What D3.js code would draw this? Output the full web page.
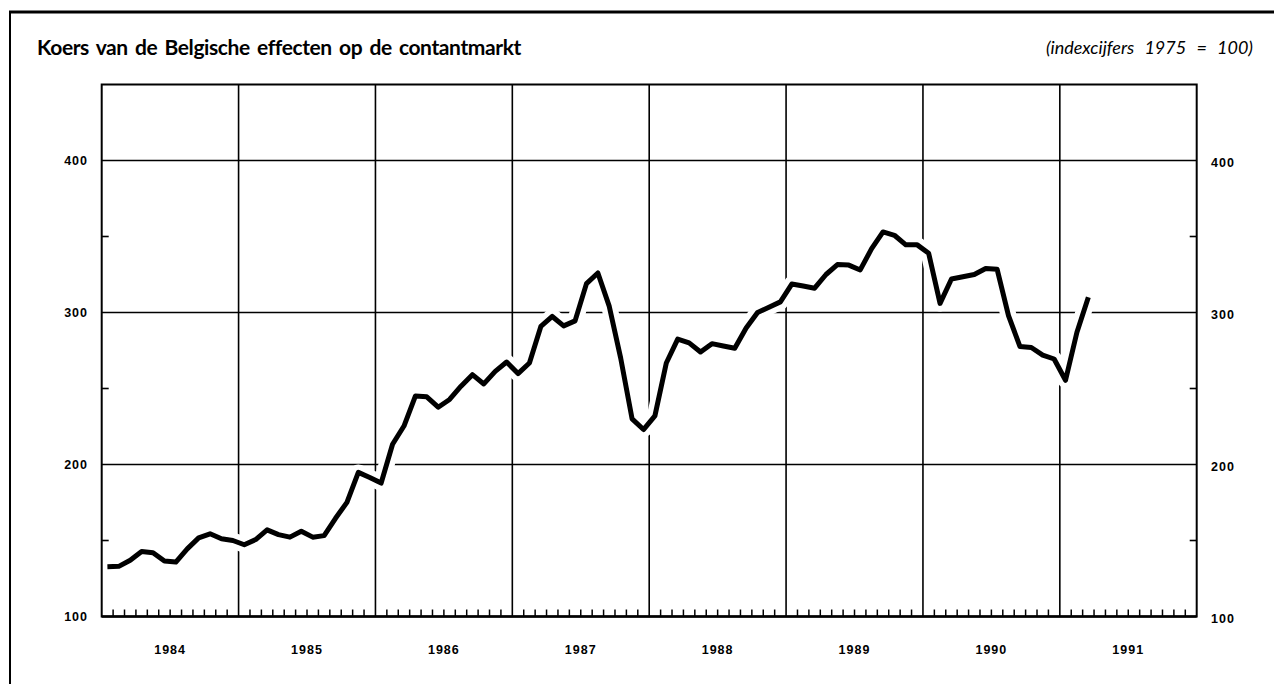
<!DOCTYPE html>
<html><head><meta charset="utf-8">
<script src="https://cdn.jsdelivr.net/npm/d3@7"></script>
<style>body{margin:0;background:#fff;overflow:hidden}</style>
</head><body>
<svg id="c" width="1274" height="684"></svg>
<script>
// ---- data ----
const years = ["1984","1985","1986","1987","1988","1989","1990","1991"];
// monthly index values, Jan 1984 .. Mar 1991 (1975 = 100)
const values = [
  132.8,133.0,137.0,142.8,142.0,136.5,135.8,144.5,151.7,154.4,151.1,150.0,
  147.2,150.6,157.0,153.9,152.2,156.1,152.2,153.2,164.6,175.1,194.8,191.5,
  187.8,213.3,225.3,245.0,244.5,237.7,242.8,251.5,259.1,253.0,261.3,267.4,
  259.8,266.8,290.8,297.4,291.2,294.5,319.0,326.0,304.0,270.0,230.0,223.0,
  232.0,266.8,282.5,280.0,274.0,279.5,278.0,276.5,289.8,300.0,303.5,307.0,
  318.7,317.4,316.0,325.0,331.5,331.2,328.0,342.0,353.0,350.8,344.5,344.5,
  339.0,306.0,322.0,323.5,325.0,329.0,328.5,298.0,277.7,277.0,272.0,269.4,
  255.4,287.0,310.0
];
const yTicks = [100,200,300,400];
const yMinorTicks = [150,250,350];
const titleText = "Koers van de Belgische effecten op de contantmarkt";
const subtitleText = "(indexcijfers 1975 = 100)";

// ---- layout ----
const svg = d3.select("#c");
const X0 = 101.7, X1 = 1196.7, YB = 616.5, YT = 84.5;
const nMonths = years.length * 12;
const x = d3.scaleLinear().domain([0, nMonths]).range([X0, X1]);
const y = d3.scaleLinear().domain([100, 450]).range([YB, YT]);

// outer frame
svg.append("line").attr("x1",9).attr("x2",1274).attr("y1",12).attr("y2",12)
  .attr("stroke","#000").attr("stroke-width",3);
svg.append("line").attr("x1",10).attr("x2",10).attr("y1",11).attr("y2",684)
  .attr("stroke","#000").attr("stroke-width",2);

// title
svg.append("text").attr("x",37).attr("y",55).text(titleText)
  .attr("font-family","Lato, 'Open Sans', sans-serif").attr("font-weight","bold")
  .attr("font-size",21).attr("fill","#000")
  .attr("letter-spacing",-0.4).attr("word-spacing",2.5);
svg.append("text").attr("x",1253).attr("y",54).attr("text-anchor","end").text(subtitleText)
  .attr("font-family","Lato, 'Open Sans', sans-serif").attr("font-style","italic")
  .attr("font-size",18).attr("fill","#000").attr("word-spacing",6);

const g = svg.append("g");

// horizontal gridlines
g.selectAll(".hg").data(yTicks.filter(d => d > 100)).join("line")
  .attr("x1",X0).attr("x2",X1).attr("y1",d=>y(d)).attr("y2",d=>y(d))
  .attr("stroke","#000").attr("stroke-width",1.6);
// vertical year gridlines
g.selectAll(".vg").data(d3.range(1, years.length)).join("line")
  .attr("x1",d=>x(d*12)).attr("x2",d=>x(d*12)).attr("y1",YT).attr("y2",YB)
  .attr("stroke","#000").attr("stroke-width",1.6);

// white halo breaking the gridlines where the curve crosses
const line = d3.line().x((d,i)=>x(i+0.5)).y(d=>y(d));
g.append("path").datum(values).attr("d",line).attr("fill","none")
  .attr("stroke","#fff").attr("stroke-width",16).attr("stroke-linejoin","round");

// month ticks along bottom
const monthTicks = d3.range(1, nMonths).filter(m => m % 12 !== 0);
g.selectAll(".mt").data(monthTicks).join("line")
  .attr("x1",d=>x(d)).attr("x2",d=>x(d)).attr("y1",YB).attr("y2",YB-7)
  .attr("stroke","#000").attr("stroke-width",1.5);

// minor y ticks on both sides
g.selectAll(".ylt").data(yMinorTicks).join("line")
  .attr("x1",X0).attr("x2",X0+7).attr("y1",d=>y(d)).attr("y2",d=>y(d))
  .attr("stroke","#000").attr("stroke-width",1.6);
g.selectAll(".yrt").data(yMinorTicks).join("line")
  .attr("x1",X1-7).attr("x2",X1).attr("y1",d=>y(d)).attr("y2",d=>y(d))
  .attr("stroke","#000").attr("stroke-width",1.6);

// plot border
g.append("rect").attr("x",X0).attr("y",YT).attr("width",X1-X0).attr("height",YB-YT)
  .attr("fill","none").attr("stroke","#000").attr("stroke-width",2);
g.append("line").attr("x1",X0).attr("x2",X1).attr("y1",YB).attr("y2",YB)
  .attr("stroke","#000").attr("stroke-width",2.6);

// data line
g.append("path").datum(values).attr("d",line).attr("fill","none")
  .attr("stroke","#000").attr("stroke-width",5).attr("stroke-linejoin","round");

// y labels
const lblFont = "'Liberation Sans', Arial, sans-serif";
g.selectAll(".yl").data(yTicks).join("text")
  .attr("x",88).attr("y",d=>y(d)).attr("dy","0.36em").attr("text-anchor","end")
  .text(d=>d).attr("font-family",lblFont).attr("font-weight","bold")
  .attr("font-size",12.5).attr("letter-spacing",1);
g.selectAll(".yr").data(yTicks).join("text")
  .attr("x",1211).attr("y",d=>y(d)+2).attr("dy","0.36em").attr("text-anchor","start")
  .text(d=>d).attr("font-family",lblFont).attr("font-weight","bold")
  .attr("font-size",12.5).attr("letter-spacing",1);

// year labels
g.selectAll(".yrl").data(years).join("text")
  .attr("x",(d,i)=>x(i*12+6)).attr("y",649).attr("dy","0.36em").attr("text-anchor","middle")
  .text(d=>d).attr("font-family",lblFont).attr("font-weight","bold")
  .attr("font-size",12.5).attr("letter-spacing",1);
</script>
</body></html>
